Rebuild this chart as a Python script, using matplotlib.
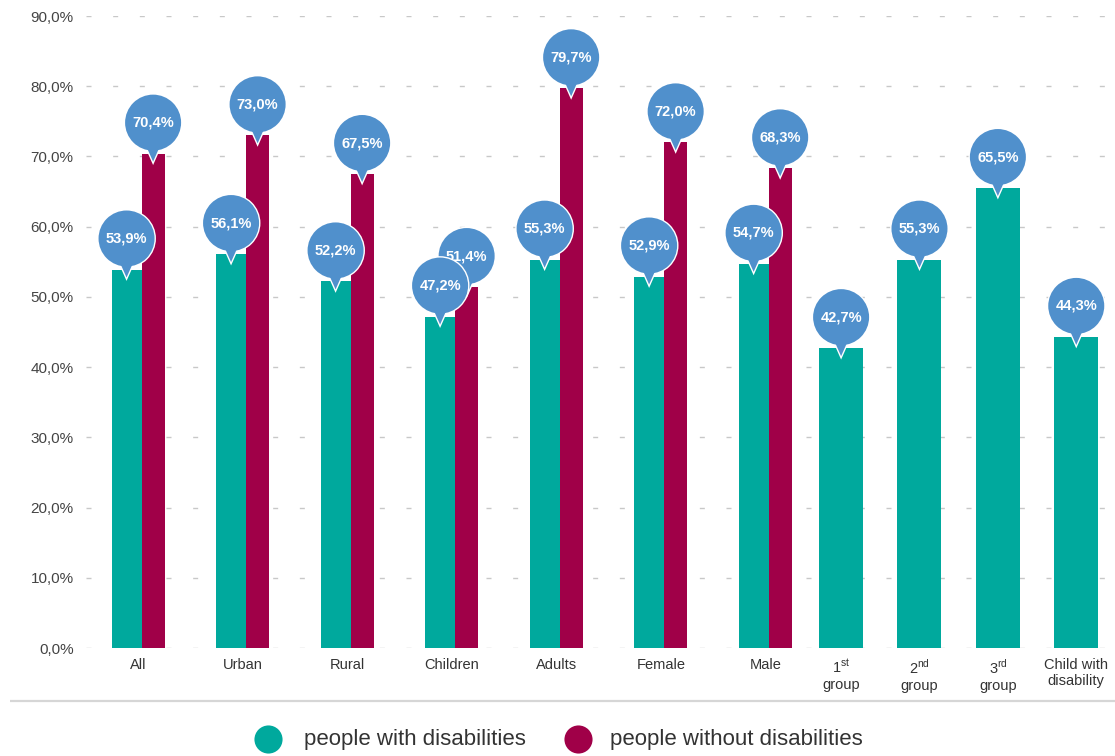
import numpy as np
import matplotlib
matplotlib.use('Agg')
import matplotlib.pyplot as plt
from matplotlib import transforms
from matplotlib.patches import Circle, Polygon

plt.rcParams['font.family'] = ['Liberation Sans', 'DejaVu Sans']
plt.rcParams['mathtext.fontset'] = 'custom'
plt.rcParams['mathtext.rm'] = 'Liberation Sans'

# data
categories = ['All', 'Urban', 'Rural', 'Children', 'Adults', 'Female', 'Male']
with_dis = [53.9, 56.1, 52.2, 47.2, 55.3, 52.9, 54.7]
without_dis = [70.4, 73.0, 67.5, 51.4, 79.7, 72.0, 68.3]
group_labels = ['1$^{\\mathrm{st}}$\ngroup', '2$^{\\mathrm{nd}}$\ngroup',
                '3$^{\\mathrm{rd}}$\ngroup', 'Child with\ndisability']
group_values = [42.7, 55.3, 65.5, 44.3]
yticks = np.arange(0, 91, 10)

TEAL = '#00a99d'
CRIMSON = '#a00048'
BLUE = '#5090cc'

W, H = 1115, 756
fig = plt.figure(figsize=(W / 100, H / 100), dpi=100)

# background overlay for separator + legend (pixel coords)
bg = fig.add_axes([0, 0, 1, 1])
bg.set_xlim(0, W)
bg.set_ylim(H, 0)
bg.axis('off')
bg.plot([10, W], [701, 701], color='#d6d6d6', lw=1.6, solid_capstyle='butt')
bg.scatter([268], [739], s=410, color=TEAL, linewidths=0)
bg.text(304, 739, 'people with disabilities', fontsize=16, color='#333333', va='center', ha='left')
bg.scatter([578], [739], s=410, color=CRIMSON, linewidths=0)
bg.text(610, 739, 'people without disabilities', fontsize=16, color='#333333', va='center', ha='left')

ax = fig.add_axes([86 / W, 108 / H, (1112 - 86) / W, (648 - 16) / H])
ax.patch.set_alpha(0)
ax.set_ylim(0, 90)
ax.set_xlim(-0.5, 9.317)

pair_x = np.arange(len(categories))
single_x = 6.725 + 0.75 * np.arange(len(group_values))

ax.bar(pair_x - 0.255, with_dis, width=0.287, align='edge', color=TEAL, zorder=2)
ax.bar(pair_x + 0.032, without_dis, width=0.22, align='edge', color=CRIMSON, zorder=2)
ax.bar(single_x, group_values, width=0.421, color=TEAL, zorder=2)


def fmt(v):
    return f'{v:.1f}%'.replace('.', ',')


def callout(x, y, z):
    trans = fig.dpi_scale_trans + transforms.ScaledTranslation(x, y, ax.transData)
    for lw, zz in [(2.0, z), (0, z + 0.1)]:
        c = Circle((0, 0.31), 0.28, transform=trans, facecolor=BLUE,
                   edgecolor='white', lw=lw, zorder=zz, clip_on=False)
        p = Polygon([(-0.08, 0.10), (0.08, 0.10), (0, -0.08)], closed=True,
                    transform=trans, facecolor=BLUE, edgecolor='white', lw=lw,
                    zorder=zz, clip_on=False)
        ax.add_patch(c)
        ax.add_patch(p)
    ax.text(0, 0.31, fmt(y), transform=trans, ha='center', va='center',
            color='white', fontweight='bold', fontsize=10.5, zorder=z + 0.2)


for x, v in zip(pair_x + 0.142, without_dis):
    callout(x, v, 5)
for x, v in zip(pair_x - 0.112, with_dis):
    callout(x, v, 6)
for x, v in zip(single_x, group_values):
    callout(x, v, 6)

ax.set_yticks(yticks)
ax.set_yticklabels([fmt(v) for v in yticks], fontsize=11, color='#444444')
ax.set_xticks(list(pair_x) + list(single_x))
ax.set_xticklabels(categories + group_labels, fontsize=10.5, color='#333333')
ax.tick_params(length=0)
ax.tick_params(axis='y', pad=9)
ax.tick_params(axis='x', pad=7)
ax.yaxis.grid(True, linestyle=(0, (3.6, 15.6)), color='#c8c8c8', lw=1)
ax.set_axisbelow(True)
for s in ax.spines.values():
    s.set_visible(False)

fig.savefig('out.png', dpi=100)
